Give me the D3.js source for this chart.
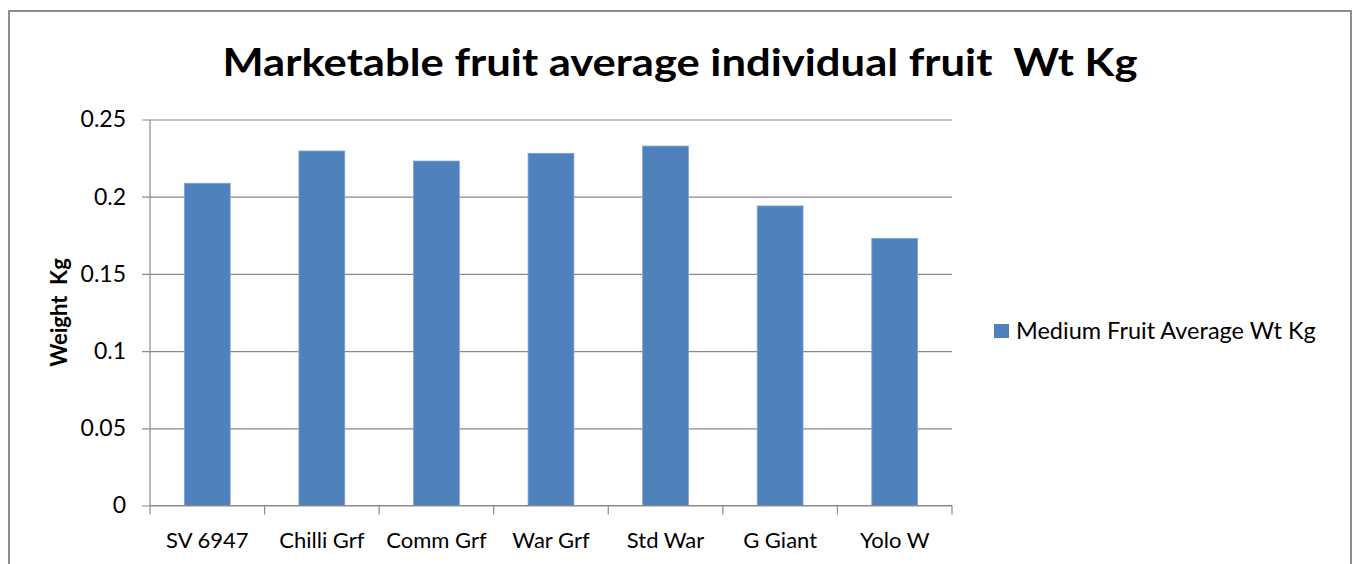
<!DOCTYPE html>
<html>
<head>
<meta charset="utf-8">
<script src="https://cdn.jsdelivr.net/npm/d3@7"></script>
<style>
  body { margin: 0; background: #fff; }
  svg { display: block; }
  text { white-space: pre; }
</style>
</head>
<body>
<script>
// data
const categories = ['SV 6947', 'Chilli Grf', 'Comm Grf', 'War Grf', 'Std War', 'G Giant', 'Yolo W'];
const values = [0.2087, 0.2296, 0.2231, 0.2281, 0.2328, 0.194, 0.173];
const yTicks = [0, 0.05, 0.1, 0.15, 0.2, 0.25];
const seriesName = 'Medium Fruit Average Wt Kg';
const titleText = 'Marketable fruit average individual fruit  Wt Kg';
const yLabel = 'Weight  Kg';

const W = 1357, H = 564;
const plot = {left: 150, right: 952, top: 119.5, bottom: 505.5};
const font = 'Lato, "Open Sans", sans-serif';
const barColor = '#4f81bd';
const gridColor = '#8a8a8a';

const svg = d3.select('body').append('svg')
  .attr('width', W)
  .attr('height', H);

svg.append('rect').attr('width', W).attr('height', H).attr('fill', '#fff');

// chart frame
svg.append('rect')
  .attr('x', 9).attr('y', 11)
  .attr('width', 1342).attr('height', 600)
  .attr('fill', 'none')
  .attr('stroke', '#8c8c8c')
  .attr('stroke-width', 2);

const x = d3.scaleBand()
  .domain(categories)
  .range([plot.left, plot.right])
  .paddingInner(0.6)
  .paddingOuter(0.3);

const y = d3.scaleLinear()
  .domain([0, 0.25])
  .range([plot.bottom, plot.top]);

// gridlines + y axis
const yAxis = d3.axisLeft(y)
  .tickValues(yTicks)
  .tickSize(-(plot.right - plot.left))
  .tickPadding(24)
  .tickFormat(d => d === 0 ? '0' : String(+d.toFixed(2)));

const gy = svg.append('g')
  .attr('transform', 'translate(' + plot.left + ',0)')
  .call(yAxis);
gy.select('.domain').remove();
gy.selectAll('.tick line')
  .attr('x1', -8)
  .attr('stroke', gridColor)
  .attr('stroke-width', 1.2);
gy.selectAll('.tick text')
  .attr('font-family', font)
  .attr('font-size', 23)
  .attr('fill', '#000');

// bars
svg.append('g').selectAll('rect')
  .data(values)
  .join('rect')
  .attr('x', (d, i) => x(categories[i]))
  .attr('y', d => y(d))
  .attr('width', x.bandwidth())
  .attr('height', d => y(0) - y(d))
  .attr('fill', barColor)
  .attr('stroke', '#7fa3d1')
  .attr('stroke-width', 0.8);

// x axis with ticks between categories
const step = x.step();
const boundaries = d3.range(categories.length + 1).map(i => plot.left + i * step);
const gx = svg.append('g');
gx.append('line')
  .attr('x1', plot.left).attr('x2', plot.right)
  .attr('y1', plot.bottom).attr('y2', plot.bottom)
  .attr('stroke', gridColor).attr('stroke-width', 1.2);
gx.selectAll('line.tk')
  .data(boundaries)
  .join('line')
  .attr('class', 'tk')
  .attr('x1', d => d).attr('x2', d => d)
  .attr('y1', plot.bottom).attr('y2', plot.bottom + 9)
  .attr('stroke', gridColor).attr('stroke-width', 1.2);
gx.selectAll('text')
  .data(categories)
  .join('text')
  .attr('x', d => x(d) + x.bandwidth() / 2)
  .attr('y', 548)
  .attr('text-anchor', 'middle')
  .attr('font-family', font)
  .attr('font-size', 22)
  .attr('fill', '#000')
  .text(d => d);

// y axis line
svg.append('line')
  .attr('x1', plot.left).attr('x2', plot.left)
  .attr('y1', plot.top).attr('y2', plot.bottom)
  .attr('stroke', gridColor).attr('stroke-width', 1.2);

// title
svg.append('text')
  .attr('x', 680)
  .attr('y', 76)
  .attr('text-anchor', 'middle')
  .attr('font-family', font)
  .attr('font-weight', 'bold')
  .attr('font-size', 38)
  .attr('textLength', 915)
  .attr('lengthAdjust', 'spacingAndGlyphs')
  .text(titleText);

// y label
svg.append('text')
  .attr('transform', 'translate(67,' + ((plot.top + plot.bottom) / 2) + ') rotate(-90)')
  .attr('text-anchor', 'middle')
  .attr('font-family', font)
  .attr('font-weight', 'bold')
  .attr('font-size', 22)
  .text(yLabel);

// legend
const lg = svg.append('g').attr('transform', 'translate(994,324)');
lg.append('rect')
  .attr('width', 15).attr('height', 14)
  .attr('fill', barColor);
lg.append('text')
  .attr('x', 22).attr('y', 15)
  .attr('font-family', font)
  .attr('font-size', 23.5)
  .attr('fill', '#000')
  .text(seriesName);
</script>
</body>
</html>
